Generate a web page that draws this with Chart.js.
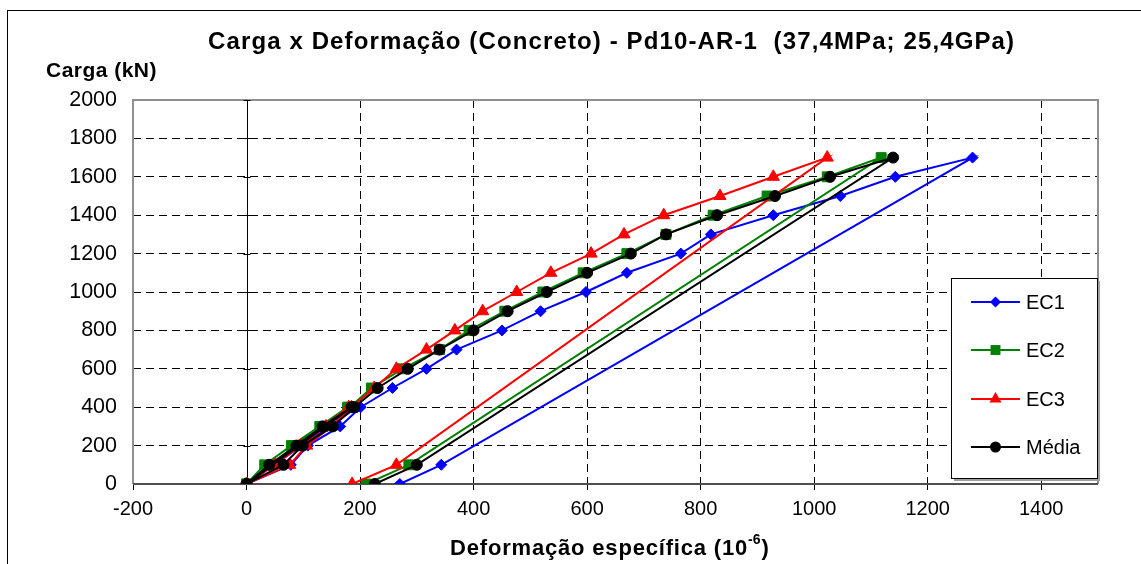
<!DOCTYPE html>
<html>
<head>
<meta charset="utf-8">
<script src="https://cdn.jsdelivr.net/npm/chart.js@4.4.0/dist/chart.umd.min.js"></script>
<style>
  html, body { margin: 0; padding: 0; background: #fff; }
  canvas { display: block; }
</style>
</head>
<body>
<canvas id="chart" width="1141" height="564"></canvas>
<script>
// Carga x Deformação - Pd10-AR-1
// preload cycle (0-400 kN), back to 0, full loading to 1700 kN, unloading 100 / 0

const loads = [0, 100, 200, 300, 400, 0,
    100, 200, 300, 400, 500, 600, 700, 800, 900, 1000, 1100, 1200, 1300, 1400, 1500, 1600, 1700,
    100, 0];

// deformação específica (10^-6)
const ec1Def = [0, 45, 95, 135, 195, 0,
    78, 108, 165, 201, 257, 317, 370, 450, 518, 598, 670, 765, 818, 928, 1046, 1143, 1279,
    343, 270];
const ec2Def = [0, 32, 79, 129, 178, 0,
    45, 85, 135, 182, 220, 275, 340, 392, 455, 522, 593, 670, 739, 822, 917, 1023, 1118,
    286, 211];
const ec3Def = [0, 50, 95, 140, 180, 0,
    76, 106, 150, 185, 225, 264, 317, 367, 416, 476, 536, 607, 665, 735, 834, 928, 1023,
    264, 186];
const mediaDef = [0, 40, 88, 134, 185, 0,
    65, 99, 152, 190, 231, 284, 340, 400, 460, 529, 600, 677, 739, 829, 931, 1028, 1139,
    300, 226];

const xTicksMin = -200, xTicksMax = 1500, xStep = 200;
const yTicksMin = 0, yTicksMax = 2000, yStep = 200;

const FONT = '"Liberation Sans", Arial, sans-serif';

function toPoints(defs) {
    return defs.map((d, i) => ({ x: d, y: loads[i] }));
}

// series: label, colour, marker
const seriesList = [
    { label: 'EC1', data: ec1Def, color: '#0000ff', marker: 'rectRot', radius: 5.5, order: 3 },
    { label: 'EC2', data: ec2Def, color: '#008000', marker: 'rect', radius: 7, order: 2 },
    { label: 'EC3', data: ec3Def, color: '#ff0000', marker: 'triangle', radius: 7, order: 1 },
    { label: 'Média', data: mediaDef, color: '#000000', marker: 'circle', radius: 5.5, order: 0 }
];

// spread letters so the text takes the wanted width (Excel renders wider)
function fitSpacing(ctx, text, target) {
    ctx.letterSpacing = '0px';
    const w = ctx.measureText(text).width;
    const sp = Math.max(0, (target - w) / text.length);
    ctx.letterSpacing = sp.toFixed(2) + 'px';
    return sp;
}

// Frame, axis lines, titles
const decorPlugin = {
    id: 'decor',
    beforeDraw(chart) {
        const ctx = chart.ctx;
        ctx.save();
        ctx.fillStyle = '#fff';
        ctx.fillRect(0, 0, chart.width, chart.height);
        ctx.strokeStyle = '#000';
        ctx.lineWidth = 1;
        ctx.strokeRect(7.5, 10.5, chart.width + 20, chart.height + 20);
        ctx.restore();
    },
    beforeDatasetsDraw(chart) {
        const { ctx, chartArea: a, scales: { x, y } } = chart;
        ctx.save();
        // plot border (grey)
        ctx.strokeStyle = '#909090';
        ctx.lineWidth = 2;
        ctx.beginPath();
        ctx.moveTo(a.left, a.bottom);
        ctx.lineTo(a.left, a.top);
        ctx.lineTo(a.right, a.top);
        ctx.lineTo(a.right, a.bottom);
        ctx.stroke();
        // vertical axis at x = 0
        const x0 = Math.round(x.getPixelForValue(0)) + 0.5;
        ctx.strokeStyle = '#000';
        ctx.lineWidth = 1;
        ctx.beginPath();
        ctx.moveTo(x0, a.top);
        ctx.lineTo(x0, a.bottom);
        for (let v = yTicksMin; v <= yTicksMax; v += yStep) {
            const py = Math.round(y.getPixelForValue(v)) + 0.5;
            ctx.moveTo(x0 - 4, py);
            ctx.lineTo(x0 + 3, py);
        }
        ctx.stroke();
        // horizontal axis at y = 0
        ctx.strokeStyle = '#505050';
        ctx.lineWidth = 2;
        ctx.beginPath();
        ctx.moveTo(a.left, a.bottom);
        ctx.lineTo(a.right, a.bottom);
        ctx.stroke();
        ctx.restore();
    },
    afterDraw(chart) {
        const ctx = chart.ctx;
        ctx.save();
        ctx.fillStyle = '#000';
        ctx.textBaseline = 'middle';
        // chart title
        const title = 'Carga x Deformação (Concreto) - Pd10-AR-1  (37,4MPa; 25,4GPa)';
        ctx.font = 'bold 24px ' + FONT;
        ctx.textAlign = 'left';
        fitSpacing(ctx, title, 807);
        ctx.fillText(title, 208, 42);
        // y axis title
        ctx.font = 'bold 21px ' + FONT;
        fitSpacing(ctx, 'Carga (kN)', 111);
        ctx.fillText('Carga (kN)', 46, 71);
        // x axis title with superscript
        const main = 'Deformação específica (10';
        const sup = '-6';
        ctx.font = 'bold 22px ' + FONT;
        const sp = fitSpacing(ctx, main + '  )', 320);
        const w1 = ctx.measureText(main).width;
        const sx = 450;
        ctx.fillText(main, sx, 549);
        ctx.font = 'bold 14px ' + FONT;
        ctx.letterSpacing = '0px';
        const w2 = ctx.measureText(sup).width;
        ctx.fillText(sup, sx + w1, 540);
        ctx.font = 'bold 22px ' + FONT;
        ctx.letterSpacing = sp.toFixed(2) + 'px';
        ctx.fillText(')', sx + w1 + w2 + 1, 549);
        ctx.letterSpacing = '0px';
        ctx.restore();
    }
};

function drawMarker(ctx, style, cx, cy, r) {
    ctx.beginPath();
    if (style === 'rectRot') {
        ctx.moveTo(cx, cy - r);
        ctx.lineTo(cx + r, cy);
        ctx.lineTo(cx, cy + r);
        ctx.lineTo(cx - r, cy);
    } else if (style === 'rect') {
        const s = r * Math.SQRT1_2;
        ctx.rect(cx - s, cy - s, 2 * s, 2 * s);
    } else if (style === 'triangle') {
        ctx.moveTo(cx, cy - r);
        ctx.lineTo(cx + r * 0.866, cy + r * 0.5);
        ctx.lineTo(cx - r * 0.866, cy + r * 0.5);
    } else {
        ctx.arc(cx, cy, r, 0, Math.PI * 2);
    }
    ctx.closePath();
    ctx.fill();
}

// Legend box inside the plot, bottom right
const legendPlugin = {
    id: 'boxLegend',
    afterDraw(chart) {
        const ctx = chart.ctx;
        const bx = 951, by = 278, bw = 146, bh = 200;
        ctx.save();
        ctx.letterSpacing = '0px';
        ctx.fillStyle = '#a0a0a0';
        ctx.fillRect(bx + 3, by + 3, bw, bh);
        ctx.fillStyle = '#fff';
        ctx.fillRect(bx, by, bw, bh);
        ctx.strokeStyle = '#000';
        ctx.lineWidth = 1;
        ctx.strokeRect(bx + 0.5, by + 0.5, bw, bh);
        const rowY = [302, 350, 399, 447];
        chart.data.datasets.forEach((ds, i) => {
            const yy = rowY[i];
            ctx.strokeStyle = ds.borderColor;
            ctx.lineWidth = 2;
            ctx.beginPath();
            ctx.moveTo(971, yy);
            ctx.lineTo(1020, yy);
            ctx.stroke();
            ctx.fillStyle = ds.borderColor;
            drawMarker(ctx, ds.pointStyle, 995.5, yy, ds.pointRadius);
            ctx.fillStyle = '#000';
            ctx.font = '20px ' + FONT;
            ctx.textBaseline = 'middle';
            ctx.textAlign = 'left';
            ctx.fillText(ds.label, 1026, yy + 1);
        });
        ctx.restore();
    }
};

function initChart() {
    const ctx = document.getElementById('chart').getContext('2d');
    return new Chart(ctx, {
        type: 'line',
        data: {
            datasets: seriesList.map(s => ({
                label: s.label,
                data: toPoints(s.data),
                borderColor: s.color,
                backgroundColor: s.color,
                pointBackgroundColor: s.color,
                pointBorderColor: s.color,
                pointStyle: s.marker,
                pointRadius: s.radius,
                pointBorderWidth: 1,
                borderWidth: 2,
                tension: 0,
                fill: false,
                order: s.order
            }))
        },
        options: {
            responsive: false,
            animation: false,
            layout: { padding: { left: 0, top: 100, right: 43, bottom: 0 } },
            plugins: {
                legend: { display: false },
                title: { display: false },
                tooltip: { enabled: false }
            },
            scales: {
                x: {
                    type: 'linear',
                    min: xTicksMin,
                    max: xTicksMax,
                    afterFit(scale) { scale.height = 80; },
                    ticks: {
                        stepSize: xStep,
                        includeBounds: false,
                        padding: 7,
                        color: '#000',
                        font: { family: FONT, size: 20 },
                        callback: v => String(v)
                    },
                    grid: {
                        color: ctx => (ctx.tick && (ctx.tick.value === 0 || ctx.tick.value === xTicksMin)) ? 'rgba(0,0,0,0)' : '#000',
                        tickColor: '#000',
                        lineWidth: 1,
                        drawTicks: true,
                        tickLength: 6
                    },
                    border: { display: false, dash: [8, 5] }
                },
                y: {
                    type: 'linear',
                    min: yTicksMin,
                    max: yTicksMax,
                    afterFit(scale) { scale.width = 133; },
                    ticks: {
                        stepSize: yStep,
                        padding: 16,
                        color: '#000',
                        font: { family: FONT, size: 21.5 },
                        callback: v => String(v)
                    },
                    grid: {
                        color: ctx => (ctx.tick && (ctx.tick.value === yTicksMin || ctx.tick.value === yTicksMax)) ? 'rgba(0,0,0,0)' : '#000',
                        lineWidth: 1,
                        drawTicks: false
                    },
                    border: { display: false, dash: [8, 5] }
                }
            }
        },
        plugins: [decorPlugin, legendPlugin]
    });
}

initChart();
</script>
</body>
</html>
